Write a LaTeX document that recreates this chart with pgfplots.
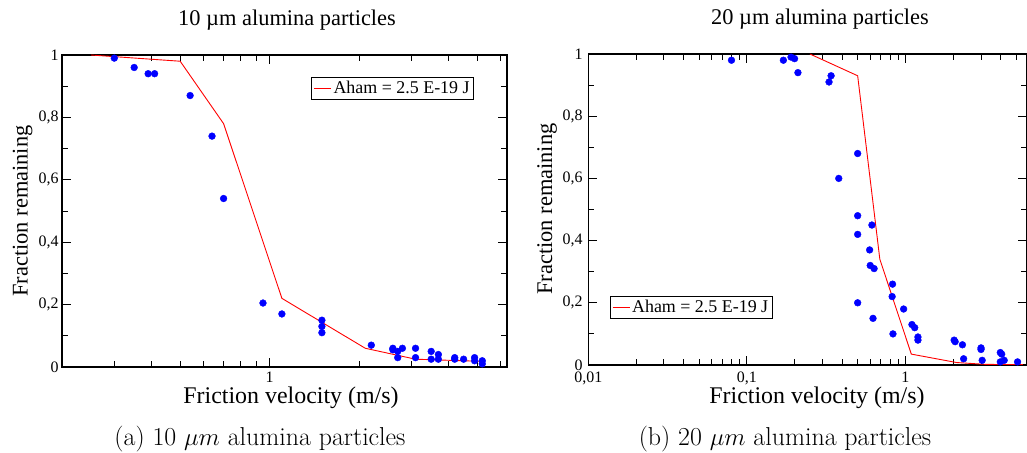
\documentclass[border=0pt]{standalone}
\usepackage{fontspec}
\setmainfont{Liberation Serif}
\newfontfamily\lmr{Latin Modern Roman}
\usepackage{pgfplots}
\pgfplotsset{compat=1.18}
\begin{document}
\begin{tikzpicture}
\path[use as bounding box] (0bp,0bp) rectangle (1027bp,453bp);
% left panel
\begin{axis}[scale only axis, xmode=log, ymin=0, ymax=1,
  axis line style={line width=1.3bp},
  tick style={black, line width=0.9bp},
  major tick length=9bp, minor tick length=6bp,
  tick align=inside,
  ytick={0,0.2,0.4,0.6,0.8,1},
  yticklabels={0,{0,2},{0,4},{0,6},{0,8},1},
  minor ytick={0.1,0.3,0.5,0.7,0.9},
  tick label style={font=\fontsize{16}{18}\selectfont},
  xticklabel style={yshift=-1bp},
  legend style={font=\fontsize{18}{20}\selectfont, draw=black, line width=0.8bp, inner sep=2bp, at={(0.56,0.93)}, anchor=north west},
  legend cell align=left,
  at={(62bp,86bp)}, anchor=south west, width=445bp, height=312bp,
  xmin=0.2, xmax=6.3,
  xtick={1}, xticklabels={1},
  minor xtick={0.3,0.4,0.5,0.6,0.7,0.8,0.9,2,3,4,5,6}]
\addplot[only marks, mark=*, mark size=3.4bp, color=blue, forget plot] coordinates {
(0.30,0.99) (0.35,0.96) (0.39,0.94) (0.41,0.94) (0.54,0.87) (0.64,0.74) (0.70,0.54)
(0.95,0.205) (1.10,0.17) (1.5,0.15) (1.5,0.13) (1.5,0.11) (2.2,0.07)
(2.6,0.06) (2.6,0.055) (2.7,0.05) (2.7,0.03) (2.8,0.06) (3.1,0.06) (3.1,0.03)
(3.5,0.05) (3.5,0.025) (3.7,0.04) (3.7,0.025) (4.2,0.03) (4.2,0.025) (4.5,0.025)
(4.9,0.03) (4.9,0.02) (5.2,0.02) (5.2,0.01)
};
\addplot[red, line width=0.9bp, mark=none] coordinates {
(0.25,1.0) (0.5,0.98) (0.70,0.78) (1.1,0.22) (2.1,0.06) (3.1,0.025) (5.2,0.018)
};
\addlegendentry{Aham = 2.5 E-19 J}
\end{axis}
% right panel
\begin{axis}[scale only axis, xmode=log, ymin=0, ymax=1,
  axis line style={line width=1.3bp},
  tick style={black, line width=0.9bp},
  major tick length=9bp, minor tick length=6bp,
  tick align=inside,
  ytick={0,0.2,0.4,0.6,0.8,1},
  yticklabels={0,{0,2},{0,4},{0,6},{0,8},1},
  minor ytick={0.1,0.3,0.5,0.7,0.9},
  tick label style={font=\fontsize{16}{18}\selectfont},
  xticklabel style={inner sep=1bp, yshift=-6bp},
  yticklabel style={inner sep=1bp, xshift=-4.5bp},
  legend style={font=\fontsize{18}{20}\selectfont, draw=black, line width=0.8bp, inner sep=2bp, at={(0.049,0.222)}, anchor=north west},
  legend cell align=left,
  at={(588.3bp,88bp)}, anchor=south west, width=438.7bp, height=311bp,
  xmin=0.01, xmax=5.85,
  xtick={0.01,0.1,1}, xticklabels={{0,01},{0,1},1},
  minor xtick={0.02,0.03,0.04,0.05,0.06,0.07,0.08,0.09,0.2,0.3,0.4,0.5,0.6,0.7,0.8,0.9,2,3,4,5}]
\addplot[only marks, mark=*, mark size=3.4bp, color=blue, forget plot] coordinates {
(0.08,0.98) (0.17,0.98) (0.19,0.99) (0.20,0.985) (0.21,0.94) (0.33,0.91) (0.34,0.93)
(0.38,0.60) (0.50,0.68) (0.50,0.48) (0.50,0.42) (0.50,0.20) (0.615,0.45) (0.595,0.37)
(0.60,0.32) (0.635,0.31) (0.625,0.15) (0.83,0.26) (0.825,0.22) (0.835,0.10) (0.975,0.18)
(1.10,0.13) (1.145,0.12) (1.2,0.09) (1.2,0.08) (2.03,0.08) (2.06,0.075) (2.29,0.065)
(2.33,0.02) (3.0,0.055) (3.0,0.05) (3.05,0.015) (3.97,0.04) (4.05,0.035) (3.97,0.01)
(4.2,0.015) (5.1,0.01)
};
\addplot[red, line width=0.9bp, mark=none] coordinates {
(0.25,1.0) (0.5,0.93) (0.69,0.34) (1.09,0.035) (2.1,0.008) (3.2,0.002) (5.5,0.001)
};
\addlegendentry{Aham = 2.5 E-19 J}
\end{axis}
% titles and labels
\node[anchor=base, font=\fontsize{22.5}{24}\selectfont] at (287bp,427bp) {10 µm alumina particles};
\node[anchor=base, font=\fontsize{22.5}{24}\selectfont] at (820bp,428bp) {20 µm alumina particles};
\node[anchor=base, font=\fontsize{24}{26}\selectfont] at (291bp,49bp) {Friction velocity (m/s)};
\node[anchor=base, font=\fontsize{24}{26}\selectfont] at (817bp,49bp) {Friction velocity (m/s)};
\node[rotate=90, font=\fontsize{22.5}{24}\selectfont] at (22.5bp,242bp) {Fraction remaining};
\node[rotate=90, font=\fontsize{22.5}{24}\selectfont] at (547bp,244bp) {Fraction remaining};
\node[anchor=base, font=\lmr\fontsize{26}{28}\selectfont] at (260bp,8bp) {(a) 10 $\mu m$ alumina particles};
\node[anchor=base, font=\lmr\fontsize{26}{28}\selectfont] at (785bp,8bp) {(b) 20 $\mu m$ alumina particles};
\end{tikzpicture}
\end{document}
